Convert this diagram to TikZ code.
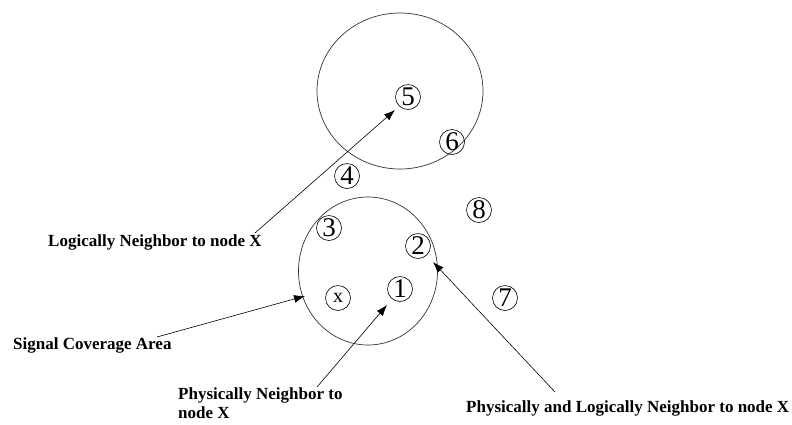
\documentclass[tikz,border=0pt]{standalone}
\usepackage{fontspec}
\setmainfont{Liberation Serif}
\usetikzlibrary{positioning,arrows.meta,shapes.geometric}

\begin{document}
\begin{tikzpicture}[
    x=1pt,
    y=-1pt,
    >=Latex,
    sensor/.style={draw, circle, line width=0.6pt, minimum size=25pt, inner sep=0pt, font=\fontsize{27}{27}\selectfont},
    area/.style={draw=black!80, ellipse, line width=0.7pt, inner sep=0pt},
    pointer/.style={line width=0.6pt, -{Latex[length=11pt, width=8pt]}},
    caption/.style={font=\fontsize{17}{19}\selectfont\bfseries, inner sep=0pt, align=left}
]

% Frame: pixel grid of the page, y grows downwards
\useasboundingbox (0,0) rectangle (792,424);

% Coverage areas
\node[area, minimum width=166pt, minimum height=156pt] (upperArea) at (400,91) {};
\node[area, minimum width=139pt, minimum height=148pt] (coverArea) at (368,271) {};

% Sensor nodes
\node[sensor] (n5) at (408,97) {5};
\node[sensor] (n6) at (452,142) {6};
\node[sensor] (n4) at (347,176) {4};
\node[sensor] (n3) at (329,228) {3};
\node[sensor] (n8) at (479,210) {8};
\node[sensor] (n2) at (418,246) {2};
\node[sensor] (n1) at (400,289) {1};
\node[sensor, font=\fontsize{20}{20}\selectfont] (nx) at (338,298) {x};
\node[sensor] (n7) at (505,298) {7};

% Captions
\node[caption, anchor=north west] (phyLab) at (178,387) {Physically Neighbor to\\node X};
\node[caption, anchor=west] (logLab) at (48,242) {Logically Neighbor to node X};
\node[caption, anchor=west] (sigLab) at (13,345) {Signal Coverage Area};
\node[caption, anchor=west] (bothLab) at (466,408) {Physically and Logically Neighbor to node X};

% Pointer ends
\coordinate (logTail) at (255,233);
\coordinate (logTip) at (395,110);
\coordinate (sigTail) at (157,337);
\coordinate (sigTip) at (305,296);
\coordinate (phyTail) at (317,387);
\coordinate (phyTip) at (387,305);
\coordinate (bothTail) at (555,392);
\coordinate (bothTip) at (433,262);

% Pointers
\draw[pointer] (logTail) -- (logTip);
\draw[pointer] (sigTail) -- (sigTip);
\draw[pointer] (phyTail) -- (phyTip);
\draw[pointer] (bothTail) -- (bothTip);

\end{tikzpicture}
\end{document}
